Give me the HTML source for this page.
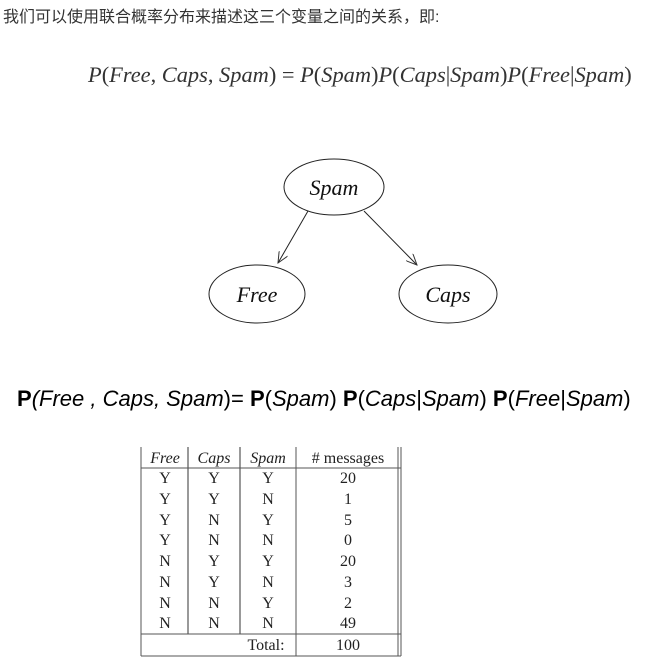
<!DOCTYPE html>
<html><head><meta charset="utf-8"><style>
body{margin:0;width:652px;height:662px;background:#fff;position:relative;overflow:hidden}
.a{position:absolute;white-space:nowrap}
.cn{left:3px;top:3px;font:16px "Liberation Sans","Noto Sans CJK SC",sans-serif;color:#333}
.m{font-family:"Liberation Serif",serif;color:#333}
.f2{left:17px;top:386px;font:22px "Liberation Sans",sans-serif;color:#000}
</style></head><body>
<div class="a cn">我们可以使用联合概率分布来描述这三个变量之间的关系，即:</div>
<div class="a m" style="left:88px;top:62px;font-size:22.4px"><i>P</i>(<i>Free</i>, <i>Caps</i>, <i>Spam</i>) = <i>P</i>(<i>Spam</i>)<i>P</i>(<i>Caps</i>|<i>Spam</i>)<i>P</i>(<i>Free</i>|<i>Spam</i>)</div>
<svg class="a" style="left:0;top:0" width="652" height="662">
<defs><marker id="ar" markerWidth="12" markerHeight="10" refX="11" refY="5" orient="auto" markerUnits="userSpaceOnUse"><path d="M0,0 L11,5 L0,10" fill="none" stroke="#333" stroke-width="1"/></marker></defs>
<g fill="none" stroke="#222" stroke-width="1">
<ellipse cx="334" cy="187" rx="50" ry="28"/>
<ellipse cx="257" cy="294" rx="48" ry="29"/>
<ellipse cx="448" cy="294" rx="49" ry="29"/>
<line x1="308" y1="211" x2="278" y2="263" marker-end="url(#ar)"/>
<line x1="364" y1="211" x2="417" y2="265" marker-end="url(#ar)"/>
</g>
<g font-family="Liberation Serif,serif" font-style="italic" font-size="22" text-anchor="middle" fill="#111">
<text x="334" y="195">Spam</text><text x="257" y="302">Free</text><text x="448" y="302">Caps</text>
</g>
<g stroke="#555" stroke-width="1" fill="none">
<line x1="141" y1="447" x2="141" y2="656"/>
<line x1="188" y1="447" x2="188" y2="634" stroke="#999" stroke-width="2"/>
<line x1="240" y1="447" x2="240" y2="634" stroke="#999" stroke-width="2"/>
<line x1="296" y1="447" x2="296" y2="656"/>
<line x1="398" y1="447" x2="398" y2="656"/>
<line x1="401" y1="447" x2="401" y2="656"/>
<line x1="141" y1="468" x2="401" y2="468"/>
<line x1="141" y1="634" x2="401" y2="634"/>
<line x1="141" y1="656" x2="401" y2="656"/>
</g>
<g font-family="Liberation Serif,serif" font-size="16" fill="#222" text-anchor="middle">
<g font-style="italic"><text x="165" y="463">Free</text><text x="214" y="463">Caps</text><text x="268" y="463">Spam</text></g>
<text x="348" y="463"># messages</text>
<text x="165" y="483">Y</text><text x="214" y="483">Y</text><text x="268" y="483">Y</text><text x="348" y="483">20</text>
<text x="165" y="504">Y</text><text x="214" y="504">Y</text><text x="268" y="504">N</text><text x="348" y="504">1</text>
<text x="165" y="525">Y</text><text x="214" y="525">N</text><text x="268" y="525">Y</text><text x="348" y="525">5</text>
<text x="165" y="545">Y</text><text x="214" y="545">N</text><text x="268" y="545">N</text><text x="348" y="545">0</text>
<text x="165" y="566">N</text><text x="214" y="566">Y</text><text x="268" y="566">Y</text><text x="348" y="566">20</text>
<text x="165" y="587">N</text><text x="214" y="587">Y</text><text x="268" y="587">N</text><text x="348" y="587">3</text>
<text x="165" y="608">N</text><text x="214" y="608">N</text><text x="268" y="608">Y</text><text x="348" y="608">2</text>
<text x="165" y="628">N</text><text x="214" y="628">N</text><text x="268" y="628">N</text><text x="348" y="628">49</text>
<text x="266" y="650">Total:</text><text x="348" y="650">100</text>
</g>
</svg>
<div class="a f2"><b>P</b><i>(Free , Caps, Spam</i>)= <b>P</b>(<i>Spam</i>) <b>P</b>(<i>Caps</i>|<i>Spam</i>) <b>P</b>(<i>Free</i>|<i>Spam</i>)</div>
</body></html>
